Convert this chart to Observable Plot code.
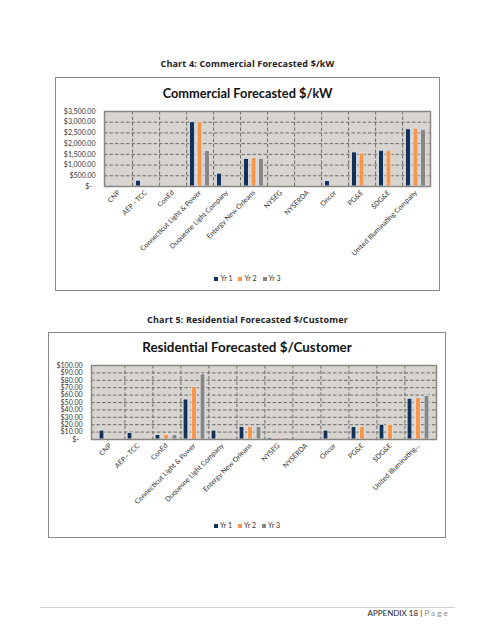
<!DOCTYPE html>
<html>
<head>
<meta charset="utf-8">
<script src="https://cdn.jsdelivr.net/npm/d3@7"></script>
<script src="https://cdn.jsdelivr.net/npm/@observablehq/plot@0.6"></script>
<style>
  body { margin: 0; background: #fff; }
  #page { position: relative; width: 495px; height: 640px; background: #fff; overflow: hidden; font-family: Lato, "Open Sans", sans-serif; }
  .abs { position: absolute; }
  .doc-h { left: 0; width: 495px; text-align: center; font-family: "Open Sans", sans-serif; font-weight: 700; font-size: 9px; color: #222; letter-spacing: 0.15px; }
  .frame { border: 1px solid #8a8a8a; box-sizing: border-box; background: #fff; }
  .ctitle { text-align: center; font-family: Lato, sans-serif; font-weight: 700; color: #111; white-space: nowrap; }
  .legend { text-align: center; font-family: Lato, sans-serif; font-size: 7px; color: #333; white-space: nowrap; }
  .legend span.sw { display: inline-block; width: 4px; height: 4px; margin-right: 2px; vertical-align: 0px; }
  .legend span.it { margin: 0 3px; }
</style>
</head>
<body>
<div id="page">
  <div class="abs doc-h" style="top:57px;">Chart 4: Commercial Forecasted $/kW</div>
  <div class="abs frame" style="left:55px;top:77px;width:385px;height:214px;"></div>
  <div class="abs ctitle" style="left:55px;width:385px;top:85px;font-size:12.8px;">Commercial Forecasted $/kW</div>
  <div class="abs" id="c1" style="left:55px;top:100px;"></div>
  <div class="abs legend" id="l1" style="left:55px;width:385px;top:274px;"></div>

  <div class="abs doc-h" style="top:313px;">Chart 5: Residential Forecasted $/Customer</div>
  <div class="abs frame" style="left:48px;top:332px;width:398px;height:206px;"></div>
  <div class="abs ctitle" style="left:48px;width:398px;top:339px;font-size:13.4px;">Residential Forecasted $/Customer</div>
  <div class="abs" id="c2" style="left:48px;top:355px;"></div>
  <div class="abs legend" id="l2" style="left:48px;width:398px;top:521px;"></div>

  <div class="abs" style="left:40px;top:607px;width:415px;height:1px;background:#cfcfcf;"></div>
  <div class="abs" style="right:45px;top:608px;font-family:Lato,sans-serif;font-size:8px;color:#222;white-space:nowrap;">APPENDIX 18 | <span style="color:#8a8a8a;letter-spacing:2.2px;">Page</span></div>
</div>
<script>
// ---- data ----
const categories = ["CNP", "AEP - TCC", "ConEd", "Connecticut Light & Power", "Duquesne Light Company", "Entergy New Orleans", "NYSEG", "NYSERDA", "Oncor", "PG&E", "SDG&E", "United Illuminating Company"];
const residentialLabels = ["CNP", "AEP - TCC", "ConEd", "Connecticut Light & Power", "Duquesne Light Company", "Entergy New Orleans", "NYSEG", "NYSERDA", "Oncor", "PG&E", "SDG&E", "United Illuminating..."];
const seriesNames = ["Yr 1", "Yr 2", "Yr 3"];
const seriesColors = ["#12315a", "#f79646", "#8a8580"];

const commercialYr1 = [50, 270, null, 3000, 600, 1290, null, null, 250, 1590, 1670, 2670];
const commercialYr2 = [null, null, null, 3000, null, 1330, null, null, null, 1540, 1670, 2700];
const commercialYr3 = [null, null, null, 1650, null, 1290, null, null, null, null, null, 2650];

const residentialYr1 = [12, 9, 6, 54, 12, 17, 2, null, 12, 17, 20, 55];
const residentialYr2 = [null, null, 6.3, 71, null, 17, 2.3, null, null, 17, 20, 56];
const residentialYr3 = [null, null, 6, 88, null, 17, 2, null, null, null, null, 59];

const commercialTicks = [0, 500, 1000, 1500, 2000, 2500, 3000, 3500];
const residentialTicks = [0, 10, 20, 30, 40, 50, 60, 70, 80, 90, 100];

function money(d) { return d === 0 ? "$-  " : d3.format("$,.2f")(d); }

function makeChart({labels, values, ticks, width, height, mL, mR, mT, mB, barW, pitch}) {
  const bw = (width - mL - mR) / categories.length;
  const inset = (bw - barW) / 2;
  const labelOf = new Map(categories.map((c, i) => [c, labels[i]]));
  const bars = values.map((arr, k) => {
    const rows = categories.map((c, i) => ({cat: c, value: arr[i]})).filter(d => d.value != null);
    return Plot.barY(rows, {x: "cat", y: "value", fill: seriesColors[k], stroke: "#dde7f1", strokeWidth: 0.8,
      dx: (k - 1) * pitch, insetLeft: inset, insetRight: inset});
  });
  const yMax = ticks[ticks.length - 1];
  return Plot.plot({
    width, height, marginLeft: mL, marginRight: mR, marginTop: mT, marginBottom: mB,
    style: {fontFamily: "Lato, sans-serif", fontSize: "7px", color: "#333", background: "transparent", overflow: "visible"},
    x: {domain: categories, padding: 0, tickSize: 0, tickRotate: -45, tickPadding: 5, tickFormat: d => labelOf.get(d), label: null},
    y: {domain: [0, yMax], ticks, tickFormat: money, tickSize: 0, tickPadding: 9, label: null},
    marks: [
      Plot.frame({fill: "#d8d4d0"}),
      Plot.ruleY(ticks.slice(1), {stroke: "#6f6b67", strokeWidth: 1, strokeDasharray: "3.5,2"}),
      Plot.ruleX(categories.slice(0, -1), {x: d => d, dx: bw / 2, stroke: "#6f6b67", strokeWidth: 1, strokeDasharray: "3.5,2"}),
      ...bars,
      Plot.frame({stroke: "#8a8682", strokeWidth: 1.5})
    ]
  });
}

document.getElementById("c1").appendChild(makeChart({
  labels: categories, values: [commercialYr1, commercialYr2, commercialYr3], ticks: commercialTicks,
  width: 385, height: 175, mL: 49, mR: 10, mT: 11, mB: 89, barW: 5, pitch: 7.5
}));
document.getElementById("c2").appendChild(makeChart({
  labels: residentialLabels, values: [residentialYr1, residentialYr2, residentialYr3], ticks: residentialTicks,
  width: 398, height: 165, mL: 43, mR: 10, mT: 10, mB: 81, barW: 5.5, pitch: 8.5
}));

function legend(id) {
  document.getElementById(id).innerHTML = seriesNames.map((s, k) =>
    `<span class="it"><span class="sw" style="background:${seriesColors[k]}"></span>${s}</span>`).join("");
}
legend("l1"); legend("l2");
</script>
</body>
</html>
